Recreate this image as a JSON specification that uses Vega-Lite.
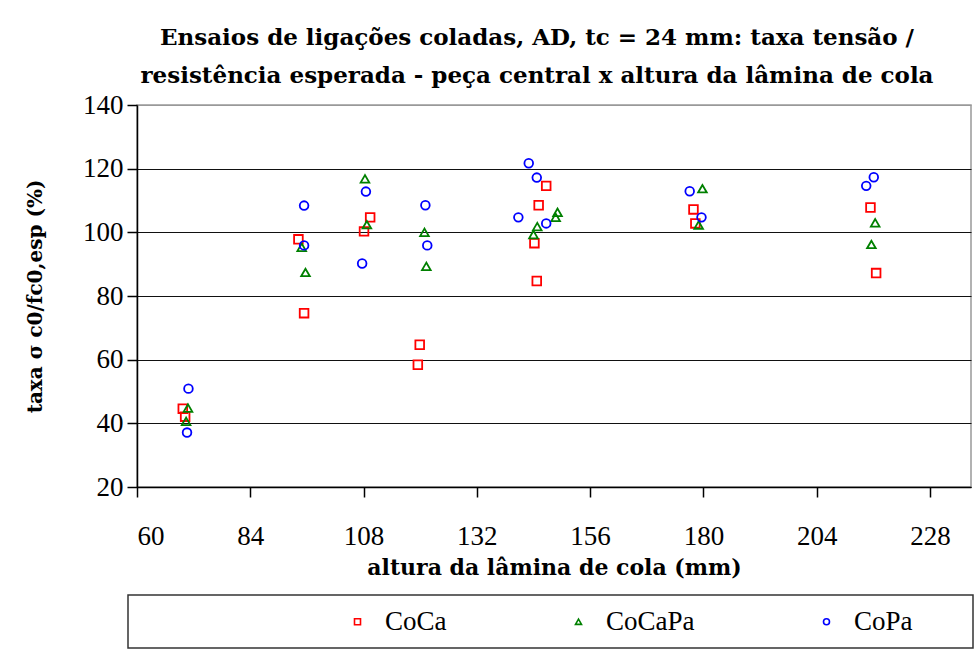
{
  "$schema": "https://vega.github.io/schema/vega-lite/v6.json",
  "width": 834,
  "height": 382,
  "autosize": "none",
  "padding": {"left": 137, "top": 105, "right": 9, "bottom": 165},
  "background": "white",
  "title": {
    "text": ["Ensaios de ligações coladas, AD, tc = 24 mm: taxa tensão /", "resistência esperada - peça central x altura da lâmina de cola"],
    "font": "DejaVu Serif",
    "fontSize": 23,
    "fontWeight": "bold",
    "color": "#000000",
    "anchor": "middle",
    "lineHeight": 38,
    "offset": 3,
    "dx": -17
  },
  "data": {
    "values": [
      {"x": 69.7, "y": 44.6, "serie": "CoCa"},
      {"x": 70.2, "y": 42.1, "serie": "CoCa"},
      {"x": 94.2, "y": 97.8, "serie": "CoCa"},
      {"x": 95.4, "y": 74.6, "serie": "CoCa"},
      {"x": 109.4, "y": 104.7, "serie": "CoCa"},
      {"x": 108.1, "y": 100.3, "serie": "CoCa"},
      {"x": 119.9, "y": 64.7, "serie": "CoCa"},
      {"x": 119.5, "y": 58.4, "serie": "CoCa"},
      {"x": 146.7, "y": 114.6, "serie": "CoCa"},
      {"x": 145.1, "y": 108.5, "serie": "CoCa"},
      {"x": 144.2, "y": 96.6, "serie": "CoCa"},
      {"x": 144.7, "y": 84.7, "serie": "CoCa"},
      {"x": 177.9, "y": 107.2, "serie": "CoCa"},
      {"x": 178.3, "y": 102.8, "serie": "CoCa"},
      {"x": 215.4, "y": 107.8, "serie": "CoCa"},
      {"x": 216.6, "y": 87.2, "serie": "CoCa"},
      {"x": 70.8, "y": 44.8, "serie": "CoCaPa"},
      {"x": 70.4, "y": 40.6, "serie": "CoCaPa"},
      {"x": 94.9, "y": 95.3, "serie": "CoCaPa"},
      {"x": 95.7, "y": 87.4, "serie": "CoCaPa"},
      {"x": 108.3, "y": 116.8, "serie": "CoCaPa"},
      {"x": 108.7, "y": 102.4, "serie": "CoCaPa"},
      {"x": 120.9, "y": 100.0, "serie": "CoCaPa"},
      {"x": 121.3, "y": 89.3, "serie": "CoCaPa"},
      {"x": 149.1, "y": 106.3, "serie": "CoCaPa"},
      {"x": 148.7, "y": 104.7, "serie": "CoCaPa"},
      {"x": 144.8, "y": 101.8, "serie": "CoCaPa"},
      {"x": 144.0, "y": 99.3, "serie": "CoCaPa"},
      {"x": 179.8, "y": 113.7, "serie": "CoCaPa"},
      {"x": 179.0, "y": 102.3, "serie": "CoCaPa"},
      {"x": 216.4, "y": 103.0, "serie": "CoCaPa"},
      {"x": 215.6, "y": 96.2, "serie": "CoCaPa"},
      {"x": 70.9, "y": 50.9, "serie": "CoPa"},
      {"x": 70.6, "y": 37.1, "serie": "CoPa"},
      {"x": 95.4, "y": 108.4, "serie": "CoPa"},
      {"x": 95.4, "y": 95.9, "serie": "CoPa"},
      {"x": 108.5, "y": 112.8, "serie": "CoPa"},
      {"x": 107.7, "y": 90.2, "serie": "CoPa"},
      {"x": 121.1, "y": 108.5, "serie": "CoPa"},
      {"x": 121.5, "y": 95.9, "serie": "CoPa"},
      {"x": 143.0, "y": 121.7, "serie": "CoPa"},
      {"x": 144.7, "y": 117.2, "serie": "CoPa"},
      {"x": 140.8, "y": 104.7, "serie": "CoPa"},
      {"x": 146.7, "y": 102.8, "serie": "CoPa"},
      {"x": 177.1, "y": 112.9, "serie": "CoPa"},
      {"x": 179.6, "y": 104.7, "serie": "CoPa"},
      {"x": 216.1, "y": 117.3, "serie": "CoPa"},
      {"x": 214.5, "y": 114.6, "serie": "CoPa"}
    ]
  },
  "mark": {"type": "point", "filled": false, "strokeWidth": 1.8, "size": 75, "opacity": 1},
  "encoding": {
    "x": {
      "field": "x",
      "type": "quantitative",
      "scale": {"domain": [60, 236.7], "nice": false, "zero": false},
      "axis": {
        "title": "altura da lâmina de cola (mm)",
        "values": [60, 84, 108, 132, 156, 180, 204, 228],
        "grid": false,
        "tickSize": 10,
        "labelPadding": 26,
        "titlePadding": 8
      }
    },
    "y": {
      "field": "y",
      "type": "quantitative",
      "scale": {"domain": [20, 140], "nice": false, "zero": false},
      "axis": {
        "title": "taxa σ c0/fc0,esp (%)",
        "titleFontSize": 20,
        "values": [20, 40, 60, 80, 100, 120, 140],
        "grid": true,
        "gridColor": {"condition": {"test": "datum.value === 140", "value": "#999999"}, "value": "#111111"},
        "tickSize": 10,
        "labelPadding": 4,
        "titlePadding": 37
      }
    },
    "color": {
      "field": "serie",
      "type": "nominal",
      "scale": {"domain": ["CoCa", "CoCaPa", "CoPa"], "range": ["#ff0000", "#008000", "#0000ff"]},
      "legend": {
        "orient": "none",
        "legendX": -9,
        "legendY": 490,
        "direction": "horizontal",
        "columns": 3,
        "gridAlign": "each",
        "title": "⠀⠀⠀⠀⠀⠀⠀⠀⠀⠀",
        "titleOrient": "left",
        "titleFont": "DejaVu Sans",
        "titleFontSize": 24.5,
        "titleLimit": 600,
        "titlePadding": 11,
        "columnPadding": 118,
        "labelExpr": "datum.label === 'CoPa' ? 'CoPa⠀\u00a0⠀' : datum.label"
      }
    },
    "shape": {
      "field": "serie",
      "type": "nominal",
      "scale": {"domain": ["CoCa", "CoCaPa", "CoPa"], "range": ["square", "triangle-up", "circle"]}
    }
  },
  "config": {
    "font": "Liberation Serif",
    "view": {"stroke": "#999999", "strokeWidth": 1.5},
    "axis": {
      "labelFont": "Liberation Serif",
      "labelFontSize": 27,
      "labelColor": "#000000",
      "titleFont": "DejaVu Serif",
      "titleFontSize": 22,
      "titleFontWeight": "bold",
      "titleColor": "#000000",
      "domainColor": "#000000",
      "domainWidth": 1.5,
      "tickColor": "#000000",
      "tickWidth": 1.5,
      "gridWidth": 1
    },
    "legend": {
      "labelFont": "Liberation Serif",
      "labelFontSize": 27,
      "labelColor": "#000000",
      "labelOffset": 14,
      "symbolSize": 36,
      "symbolStrokeWidth": 1.6,
      "padding": 13,
      "strokeColor": "#333333",
      "strokeWidth": 1.5,
      "fillColor": "#ffffff"
    }
  }
}
